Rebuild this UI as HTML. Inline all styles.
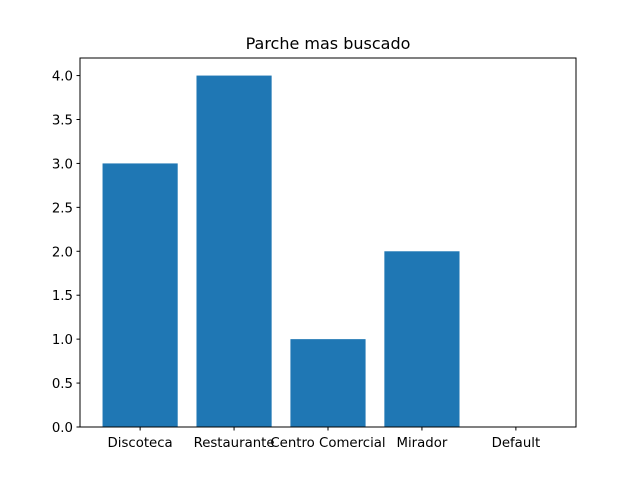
<!DOCTYPE html>
<html><head><meta charset="utf-8"><style>
body{margin:0;background:#fff;}
svg text{font-family:"DejaVu Sans","Liberation Sans",sans-serif;font-size:13.3px;fill:#000;}
</style></head><body>
<svg id="chart" width="640" height="480">
<rect width="640" height="480" fill="#fff"/>
<text x="328" y="49" text-anchor="middle" style="font-size:16px">Parche mas buscado</text>
<g id="bars"></g>
<g id="yticks"></g>
<g id="xticks"></g>
<rect x="80" y="58" width="496" height="369" fill="none" stroke="#000" stroke-width="1"/>
</svg>
<script>
const categories = ["Discoteca","Restaurante","Centro Comercial","Mirador","Default"];
const values = [3,4,1,2,0];
const yTickLabels = ["0.0","0.5","1.0","1.5","2.0","2.5","3.0","3.5","4.0"];

const L=80,R=576,T=58,B=427;
const ymax=Math.max(...values)*1.05;
const xmin=-0.4-0.05*(categories.length-0.2), xmax=categories.length-1+0.4+0.05*(categories.length-0.2);
const xs=v=>L+(v-xmin)/(xmax-xmin)*(R-L);
const ys=v=>B-(v/ymax)*(B-T);
const NS="http://www.w3.org/2000/svg";
function mk(tag,attrs,parent){const e=document.createElementNS(NS,tag);for(const k in attrs)e.setAttribute(k,attrs[k]);parent.appendChild(e);return e;}
const gb=document.getElementById('bars'),gy=document.getElementById('yticks'),gx=document.getElementById('xticks');
categories.forEach((c,i)=>{
  const x0=xs(i-0.4),x1=xs(i+0.4),y=ys(values[i]);
  const r=mk('rect',{x:x0,y:y,width:x1-x0,height:B-y,fill:'#1f77b4'},gb);
  
  
  const tl=mk('line',{x1:xs(i),x2:xs(i),y1:B,y2:B+3.5,stroke:'#000'},gx);
  
  
  const t=mk('text',{x:xs(i),y:B+20,'text-anchor':'middle'},gx);
  t.textContent=c;
  
  
});
yTickLabels.forEach(s=>{
  const v=parseFloat(s),y=ys(v);
  const tl=mk('line',{x1:L-3.5,x2:L,y1:y,y2:y,stroke:'#000'},gy);
  
  
  const t=mk('text',{x:L-7,y:y+5,'text-anchor':'end'},gy);
  t.textContent=s;
  
  
});
</script>
</body></html>
